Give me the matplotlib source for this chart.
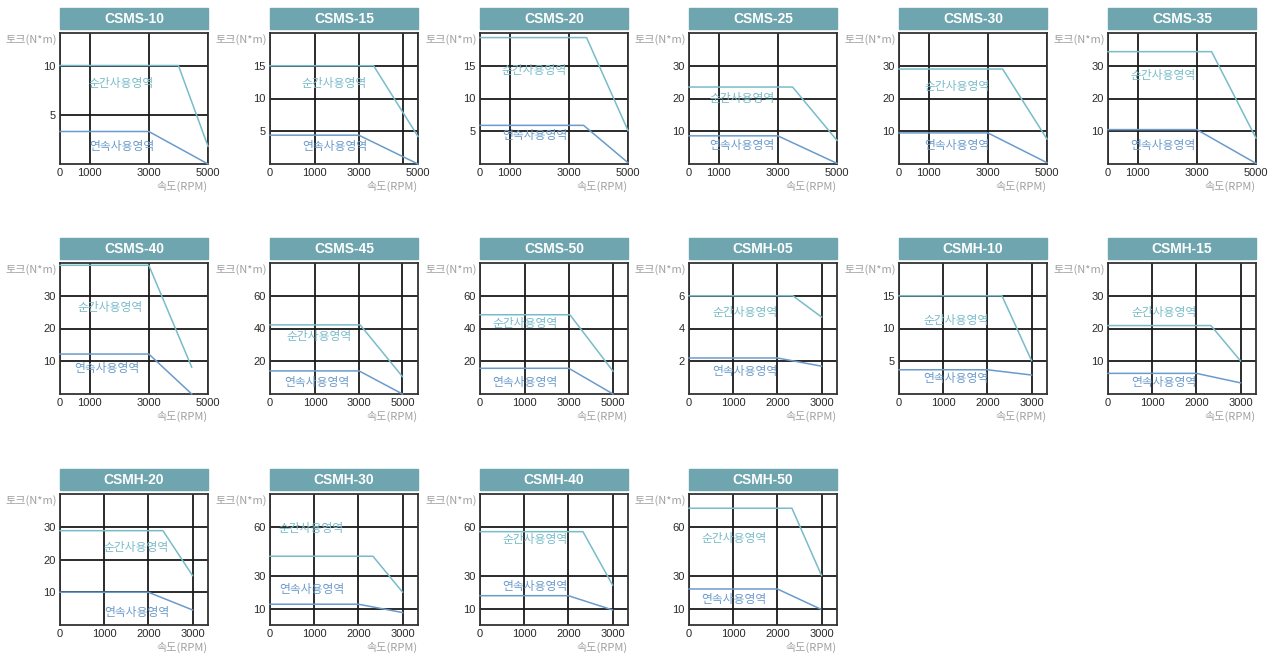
import numpy as np
import matplotlib
matplotlib.use('Agg')
import matplotlib.pyplot as plt
from matplotlib.patches import Rectangle
from matplotlib import font_manager

plt.rcParams['font.family'] = ['Noto Sans CJK KR', 'DejaVu Sans']

names = ['CSMS-10', 'CSMS-15', 'CSMS-20', 'CSMS-25', 'CSMS-30', 'CSMS-35',
         'CSMS-40', 'CSMS-45', 'CSMS-50', 'CSMH-05', 'CSMH-10', 'CSMH-15',
         'CSMH-20', 'CSMH-30', 'CSMH-40', 'CSMH-50']

# 순간사용영역 (peak) : speed [RPM], torque [N*m]
peak_rpm = [[0, 4000, 5000], [0, 3500, 5000], [0, 3600, 5000], [0, 3500, 5000],
            [0, 3500, 5000], [0, 3500, 5000], [0, 3000, 4450], [0, 3050, 5000],
            [0, 3050, 5000], [0, 2350, 3000], [0, 2330, 3000], [0, 2330, 3000],
            [0, 2330, 3000], [0, 2330, 3000], [0, 2330, 3000], [0, 2330, 3000]]
peak_trq = [[10, 10, 1.8], [15, 15, 4.2], [19.3, 19.3, 5.1], [23.5, 23.5, 7.2],
            [29, 29, 7.6], [34.3, 34.3, 7.9], [39.3, 39.3, 8.2], [42.2, 42.2, 10.6],
            [48.4, 48.4, 13.9], [6, 6, 4.7], [15, 15, 5.1], [20.9, 20.9, 10.1],
            [28.8, 28.8, 15.1], [42, 42, 20.1], [57, 57, 24.4], [71.3, 71.3, 30.2]]

# 연속사용영역 (continuous)
cont_rpm = [[0, 3000, 5000], [0, 3000, 5000], [0, 3500, 5000], [0, 3000, 5000],
            [0, 3000, 5000], [0, 3000, 5000], [0, 3000, 4450], [0, 3000, 5000],
            [0, 3000, 5000], [0, 2000, 3000], [0, 2000, 3000], [0, 2000, 3000],
            [0, 2000, 3000], [0, 2000, 3000], [0, 2000, 3000], [0, 2000, 2980]]
cont_trq = [[3.3, 3.3, 0], [4.4, 4.4, 0], [5.9, 5.9, 0.2], [8.6, 8.6, 0.2],
            [9.5, 9.5, 0.4], [10.5, 10.5, 0.2], [12.2, 12.2, 0], [14.1, 14.1, 0],
            [15.7, 15.7, 0], [2.2, 2.2, 1.7], [3.7, 3.7, 2.9], [6.3, 6.3, 3.4],
            [10, 10, 4.6], [12.7, 12.7, 7.6], [17.9, 17.9, 9.2], [22, 22, 9.7]]

y_max = [13.3, 20, 20, 40, 40, 40, 40, 80, 80, 8, 20, 40, 40, 80, 80, 80]
y_ticks = [[5, 10], [5, 10, 15], [5, 10, 15], [10, 20, 30], [10, 20, 30], [10, 20, 30],
           [10, 20, 30], [20, 40, 60], [20, 40, 60], [2, 4, 6], [5, 10, 15], [10, 20, 30],
           [10, 20, 30], [10, 30, 60], [10, 30, 60], [10, 30, 60]]

ms_ticks = [0, 1000, 3000, 5000]
ms_labels = ['0', '1000', '3000', '5000']
mh_ticks = [0, 1000, 2000, 3000]
mh_labels = ['0', '1000', '2000', '3000']
x_ticks = [ms_ticks] * 9 + [mh_ticks] * 7
x_labels = [ms_labels] * 9 + [mh_labels] * 7
x_ticks[1] = [0, 1000, 3000, 4500, 5000]
x_labels[1] = ['0', '1000', '3000', '', '5000']

# x axis of the original is not evenly spaced in some panels: knots -> axis fraction
x_knots = [[0, 5000]] * 9 + [[0, 3350]] * 7
x_frac = [[0, 1]] * 16
x_knots[1] = [0, 1000, 3000, 5000]
x_frac[1] = [0, 0.303, 0.6, 1.0]
x_knots[7] = [0, 1000, 3000, 5000, 5700]
x_frac[7] = [0, 0.306, 0.602, 0.895, 1.0]
x_knots[8] = [0, 1000, 3000, 5000, 5700]
x_frac[8] = [0, 0.303, 0.6, 0.899, 1.0]

# label positions (rpm, torque)
peak_txt = [(2050, 8.2), (1880, 12.3), (1830, 14.2), (1790, 20), (1950, 23.6), (1870, 26.9),
            (1700, 26.3), (1150, 35.1), (1020, 42.9), (1270, 5.0), (1300, 11.2), (1270, 24.9),
            (1730, 23.6), (940, 58.9), (1240, 52.4), (1020, 53)]
cont_txt = [(2080, 1.8), (1900, 2.65), (1850, 4.4), (1790, 5.6), (1950, 5.6), (1870, 5.6),
            (1600, 7.7), (1070, 7.1), (1020, 7.1), (1265, 1.4), (1290, 2.3), (1270, 3.4),
            (1730, 3.9), (940, 21.6), (1240, 23.6), (1020, 15.8)]

W, H = 1268, 654
col_left = [60, 270, 480, 689, 899, 1108]
row_top = [33, 263, 494]
aw, ah = 148, 131

title_col = '#6ea5ae'
peak_col = '#78bcc9'
cont_col = '#6b9bcb'
grid_col = '#1a1a1a'


def pick_font(cands):
    for f in cands:
        try:
            font_manager.findfont(f, fallback_to_default=False)
            return f
        except Exception:
            pass
    return 'DejaVu Sans'


num_font = pick_font(['Liberation Sans Narrow', 'Liberation Sans', 'Roboto'])
num_size = 8.5 if 'Narrow' in num_font else 8

fig = plt.figure(figsize=(W / 100, H / 100), dpi=100)

for i, name in enumerate(names):
    r, c = divmod(i, 6)
    left = col_left[c] / W
    bottom = 1 - (row_top[r] + ah) / H
    ax = fig.add_axes([left, bottom, aw / W, ah / H])

    kx, kf = x_knots[i], x_frac[i]
    ax.set_xscale('function', functions=(lambda v, kx=kx, kf=kf: np.interp(v, kx, kf),
                                         lambda v, kx=kx, kf=kf: np.interp(v, kf, kx)))
    ax.set_xlim(0, kx[-1])
    ax.set_ylim(0, y_max[i])

    ax.set_xticks(x_ticks[i])
    ax.set_xticklabels(x_labels[i], family=num_font, fontsize=num_size, color='#2a2a2a')
    ax.set_yticks(y_ticks[i])
    ax.set_yticklabels([str(t) for t in y_ticks[i]], family=num_font, fontsize=num_size,
                       color='#2a2a2a')
    ax.tick_params(length=0, pad=3)
    ax.minorticks_off()
    ax.grid(True, color=grid_col, lw=1.3)
    ax.set_axisbelow(True)
    for sp in ax.spines.values():
        sp.set_color('#333333')
        sp.set_linewidth(1.3)

    ax.plot(peak_rpm[i], peak_trq[i], color=peak_col, lw=1.1, zorder=3, clip_on=False)
    ax.plot(cont_rpm[i], cont_trq[i], color=cont_col, lw=1.1, zorder=3, clip_on=False)

    ax.text(peak_txt[i][0], peak_txt[i][1], '순간사용영역', color=peak_col, fontsize=8.5,
            ha='center', va='center', zorder=2)
    ax.text(cont_txt[i][0], cont_txt[i][1], '연속사용영역', color=cont_col, fontsize=8.5,
            ha='center', va='center', zorder=2)

    # title box
    ax.add_patch(Rectangle((0, 1.033), 1, 0.155, transform=ax.transAxes,
                           color=title_col, clip_on=False))
    ax.text(0.5, 1.11, name, transform=ax.transAxes, ha='center', va='center',
            color='white', fontsize=10, fontweight='bold', family=num_font)

    ax.text(-0.02, 0.95, '토크(N*m)', transform=ax.transAxes, ha='right', va='center',
            color='#a0a0a0', fontsize=8)
    ax.text(1.0, -0.17, '속도(RPM)', transform=ax.transAxes, ha='right', va='center',
            color='#a0a0a0', fontsize=8)

fig.savefig('out.png', dpi=100)
